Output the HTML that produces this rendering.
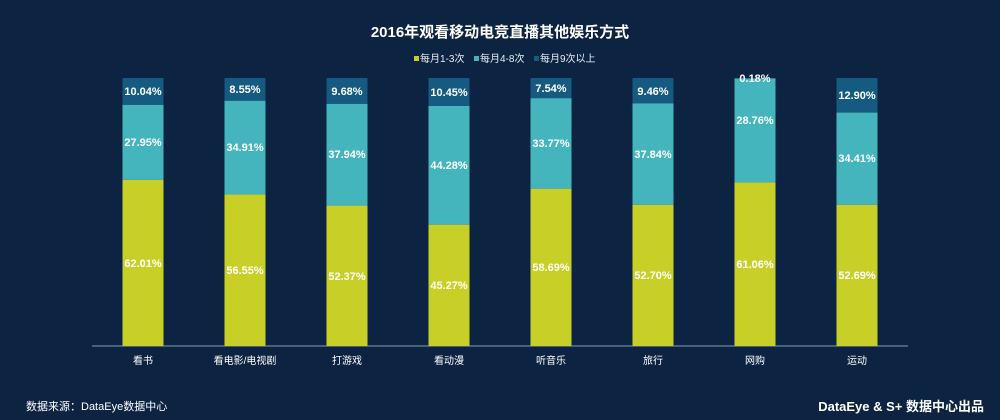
<!DOCTYPE html>
<html><head><meta charset="utf-8"><style>
html,body{margin:0;padding:0;background:#0c2341;}
svg{display:block;font-family:"Liberation Sans","Noto Sans CJK SC",sans-serif;}
</style></head><body>
<svg width="1000" height="420" viewBox="0 0 1000 420" xmlns="http://www.w3.org/2000/svg">
<rect width="1000" height="420" fill="#0c2341"/>
<text x="500" y="37" fill="#fff" font-size="15" font-weight="bold" text-anchor="middle">2016年观看移动电竞直播其他娱乐方式</text>
<g font-size="10" fill="#e8eef4">
<rect x="414" y="56" width="5" height="5" fill="#c8cf26"/><text x="420" y="62">每月1-3次</text>
<rect x="474" y="56" width="5" height="5" fill="#45b5bd"/><text x="480" y="62">每月4-8次</text>
<rect x="534" y="56" width="5" height="5" fill="#155a80"/><text x="540" y="62">每月9次以上</text>
</g>
<line x1="92" y1="346" x2="908" y2="346" stroke="#8a9cb0" stroke-width="1"/>
<g>
<rect x="122.5" y="78" width="41" height="26.9" fill="#155a80"/><rect x="122.5" y="104.9" width="41" height="74.9" fill="#45b5bd"/><rect x="122.5" y="179.8" width="41" height="166.2" fill="#c8cf26"/>
<rect x="224.5" y="78" width="41" height="22.8" fill="#155a80"/><rect x="224.5" y="100.8" width="41" height="93.6" fill="#45b5bd"/><rect x="224.5" y="194.4" width="41" height="151.6" fill="#c8cf26"/>
<rect x="326.5" y="78" width="41" height="25.9" fill="#155a80"/><rect x="326.5" y="103.9" width="41" height="101.7" fill="#45b5bd"/><rect x="326.5" y="205.6" width="41" height="140.4" fill="#c8cf26"/>
<rect x="428.5" y="78" width="41" height="28" fill="#155a80"/><rect x="428.5" y="106" width="41" height="118.7" fill="#45b5bd"/><rect x="428.5" y="224.7" width="41" height="121.3" fill="#c8cf26"/>
<rect x="530.5" y="78" width="41" height="20.2" fill="#155a80"/><rect x="530.5" y="98.2" width="41" height="90.5" fill="#45b5bd"/><rect x="530.5" y="188.7" width="41" height="157.3" fill="#c8cf26"/>
<rect x="632.5" y="78" width="41" height="25.4" fill="#155a80"/><rect x="632.5" y="103.4" width="41" height="101.4" fill="#45b5bd"/><rect x="632.5" y="204.8" width="41" height="141.2" fill="#c8cf26"/>
<rect x="734.5" y="78" width="41" height="0.6" fill="#155a80"/><rect x="734.5" y="78.6" width="41" height="103.8" fill="#45b5bd"/><rect x="734.5" y="182.4" width="41" height="163.6" fill="#c8cf26"/>
<rect x="836.5" y="78" width="41" height="34.6" fill="#155a80"/><rect x="836.5" y="112.6" width="41" height="92.2" fill="#45b5bd"/><rect x="836.5" y="204.8" width="41" height="141.2" fill="#c8cf26"/>
</g>
<g fill="#fff" font-size="11" font-weight="bold" text-anchor="middle">
<text x="143" y="95">10.04%</text><text x="143" y="146">27.95%</text><text x="143" y="267">62.01%</text>
<text x="245" y="93">8.55%</text><text x="245" y="151">34.91%</text><text x="245" y="274">56.55%</text>
<text x="347" y="95">9.68%</text><text x="347" y="158">37.94%</text><text x="347" y="280">52.37%</text>
<text x="449" y="96">10.45%</text><text x="449" y="169">44.28%</text><text x="449" y="289">45.27%</text>
<text x="551" y="92">7.54%</text><text x="551" y="147">33.77%</text><text x="551" y="271">58.69%</text>
<text x="653" y="95">9.46%</text><text x="653" y="158">37.84%</text><text x="653" y="279">52.70%</text>
<text x="755" y="82">0.18%</text><text x="755" y="124">28.76%</text><text x="755" y="268">61.06%</text>
<text x="857" y="99">12.90%</text><text x="857" y="162">34.41%</text><text x="857" y="279">52.69%</text>
</g>
<g fill="#fff" font-size="10" text-anchor="middle">
<text x="143" y="364">看书</text><text x="245" y="364">看电影/电视剧</text><text x="347" y="364">打游戏</text><text x="449" y="364">看动漫</text>
<text x="551" y="364">听音乐</text><text x="653" y="364">旅行</text><text x="755" y="364">网购</text><text x="857" y="364">运动</text>
</g>
<text x="26" y="410" fill="#fff" font-size="11">数据来源：DataEye数据中心</text>
<text x="984" y="411" fill="#fff" font-size="13" font-weight="bold" text-anchor="end">DataEye &amp; S+ 数据中心出品</text>
</svg>
</body></html>
